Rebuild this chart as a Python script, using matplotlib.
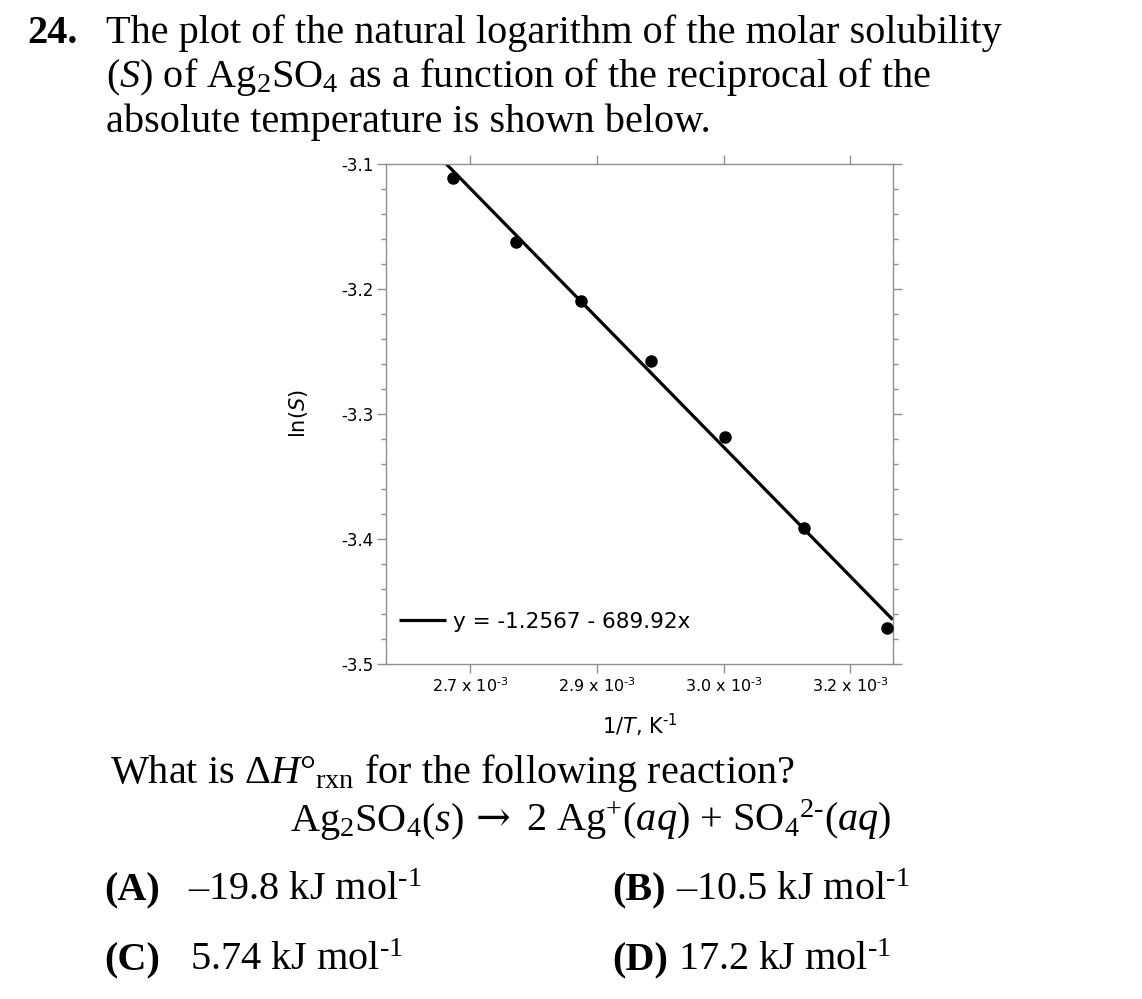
import matplotlib
matplotlib.use("Agg")
import matplotlib.pyplot as plt
from matplotlib.ticker import FixedLocator, MultipleLocator, NullLocator

# ---------------- data ----------------
inv_T = [0.0026799, 0.0027537, 0.0028317, 0.0029142, 0.0030017, 0.0030945, 0.0031934]
ln_S = [-3.1110, -3.1624, -3.2094, -3.2576, -3.3182, -3.3914, -3.4710]
fit_x = [0.0026, 0.0032]
fit_y = [-3.0505, -3.4645]
fit_label = "y = -1.2567 - 689.92x"
x_ticks = [0.00270, 0.00285, 0.00300, 0.00315]
x_tick_labels = [r"2.7 x 10$^{\text{-}3}$", r"2.9 x 10$^{\text{-}3}$",
                 r"3.0 x 10$^{\text{-}3}$", r"3.2 x 10$^{\text{-}3}$"]
y_ticks = [-3.1, -3.2, -3.3, -3.4, -3.5]
y_tick_labels = ["-3.1", "-3.2", "-3.3", "-3.4", "-3.5"]

question_lines = [
    "The plot of the natural logarithm of the molar solubility",
    r"($\mathit{S}$) of Ag$_{2}$SO$_{4}$ as a function of the reciprocal of the",
    "absolute temperature is shown below.",
]
question2 = r"What is Δ$\mathit{H}$°$\mathrm{_{rxn}}$ for the following reaction?"
reaction_left = r"Ag$_{2}$SO$_{4}$($\mathit{s}$)"
reaction_arrow = "→"
reaction_right = r"2 Ag$^{+}$($\mathit{aq}$) + SO$_{4}{}^{2\text{-}}$($\mathit{aq}$)"
choice_letters = ["(A)", "(B)", "(C)", "(D)"]
choice_values = [r"–19.8 kJ mol$^{\text{-}1}$", r"–10.5 kJ mol$^{\text{-}1}$",
                 r"5.74 kJ mol$^{\text{-}1}$", r"17.2 kJ mol$^{\text{-}1}$"]

# ---------------- style ----------------
plt.rcParams["mathtext.fontset"] = "custom"
plt.rcParams["mathtext.rm"] = "Liberation Serif"
plt.rcParams["mathtext.it"] = "Liberation Serif:italic"
plt.rcParams["mathtext.bf"] = "Liberation Serif:bold"

W, H = 1142, 999
fig = plt.figure(figsize=(W / 100, H / 100), dpi=100)
fig.patch.set_facecolor("white")


def fx(x):
    return x / W


def fy(y):
    return 1 - y / H


serif = ["Liberation Serif", "DejaVu Serif"]
qsize = 29

# ---------------- question text ----------------
fig.text(fx(27), fy(43), "24.", family=serif, weight="bold", fontsize=qsize, va="baseline")
for i, line in enumerate(question_lines):
    fig.text(fx(106), fy(43 + 44.5 * i), line, family=serif, fontsize=qsize, va="baseline")

# ---------------- chart ----------------
gray = "#8f8f8f"
sans = "DejaVu Sans"
ax = fig.add_axes([fx(385.7), fy(664), (892.7 - 385.7) / W, (664 - 164) / H])
ax.plot(fit_x, fit_y, color="black", lw=2.3, label=fit_label, solid_capstyle="butt", zorder=2)
ax.plot(inv_T, ln_S, "o", color="black", ms=8, zorder=3)
ax.set_xlim(0.0026, 0.0032)
ax.set_ylim(-3.5, -3.1)

for s in ax.spines.values():
    s.set_color(gray)
    s.set_linewidth(1.0)

ax.xaxis.set_major_locator(FixedLocator(x_ticks))
ax.set_xticklabels(x_tick_labels, family=sans, fontsize=11.5, math_fontfamily="dejavusans")
ax.xaxis.set_minor_locator(NullLocator())
ax.yaxis.set_major_locator(FixedLocator(y_ticks))
ax.set_yticklabels(y_tick_labels, family=sans, fontsize=12)
ax.yaxis.set_minor_locator(MultipleLocator(0.02))
ax.tick_params(which="both", direction="out", top=True, right=True, color=gray, width=1.0)
ax.tick_params(which="major", length=6.5)
ax.tick_params(axis="y", which="major", pad=2)
ax.tick_params(axis="x", which="major", pad=2)
ax.tick_params(which="minor", length=3.5)

ax.set_ylabel(r"ln($\mathit{S}$)", family=sans, fontsize=15, math_fontfamily="dejavusans")
ax.yaxis.set_label_coords(-0.15, 0.5)
ax.set_xlabel(r"1/$\mathit{T}$, K$^{\text{-}1}$", family=sans, fontsize=15,
              math_fontfamily="dejavusans")
ax.xaxis.set_label_coords(0.5, -0.095)

leg = ax.legend(loc="center left", bbox_to_anchor=(0.026, 0.085), frameon=False,
                prop={"family": sans, "size": 15.5}, handlelength=2.2,
                handletextpad=0.3, borderpad=0, borderaxespad=0)

# ---------------- question part 2 ----------------
fig.text(fx(110), fy(783), question2, family=serif, fontsize=qsize, va="baseline")
fig.text(fx(290), fy(831), reaction_left, family=serif, fontsize=qsize, va="baseline")
fig.text(fx(476), fy(831), reaction_arrow, family="DejaVu Serif", fontsize=qsize + 1,
         va="baseline")
fig.text(fx(526), fy(831), reaction_right, family=serif, fontsize=qsize, va="baseline")

letter_x = [104, 612, 104, 612]
value_x = [188, 676, 190, 678]
row_y = [900, 900, 970, 970]
for L, V, lx, vx, yy in zip(choice_letters, choice_values, letter_x, value_x, row_y):
    fig.text(fx(lx), fy(yy), L, family=serif, weight="bold", fontsize=qsize, va="baseline")
    fig.text(fx(vx), fy(yy), V, family=serif, fontsize=qsize, va="baseline")

fig.savefig("out.png", dpi=100, facecolor="white")
